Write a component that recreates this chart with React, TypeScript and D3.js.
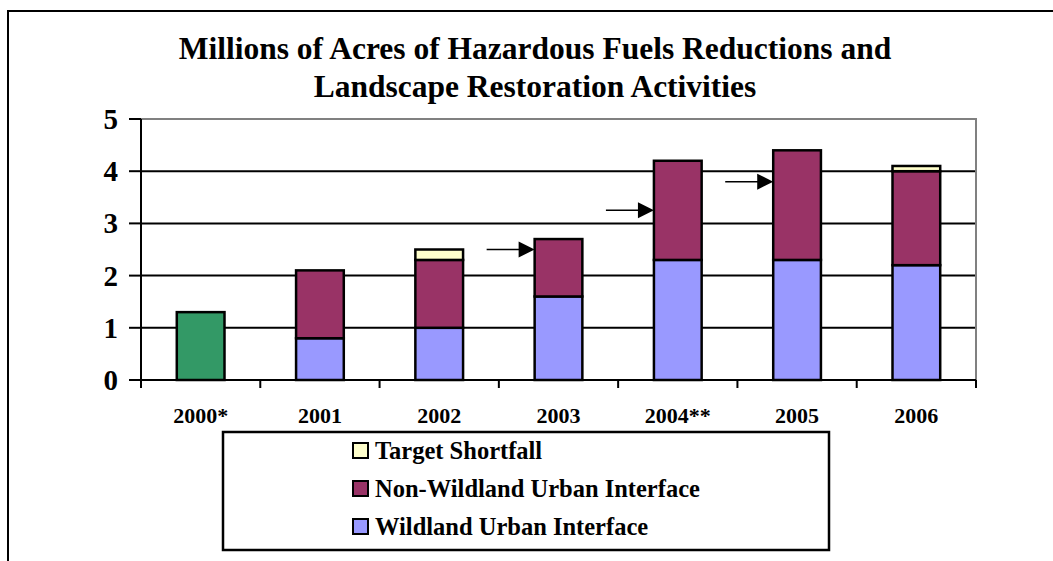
import React from "react";
import * as d3 from "d3";

const categories = ["2000*", "2001", "2002", "2003", "2004**", "2005", "2006"];
const acres2000 = [1.3, 0, 0, 0, 0, 0, 0];
const wui = [0, 0.8, 1.0, 1.6, 2.3, 2.3, 2.2];
const nonWui = [0, 1.3, 1.3, 1.1, 1.9, 2.1, 1.8];
const shortfall = [0, 0, 0.2, 0, 0, 0, 0.1];
const yTicks = [0, 1, 2, 3, 4, 5];
const titleLines = [
  "Millions of Acres of Hazardous Fuels Reductions and",
  "Landscape Restoration Activities",
];
const arrowCats = ["2003", "2004**", "2005"];
const arrowValues = [2.5, 3.25, 3.8];
const legendLabels = ["Target Shortfall", "Non-Wildland Urban Interface", "Wildland Urban Interface"];
const legendKeys = ["shortfall", "nonWui", "wui"];

const keys = ["acres2000", "wui", "nonWui", "shortfall"];
const colors: Record<string, string> = {
  acres2000: "#339966",
  wui: "#9999FF",
  nonWui: "#993366",
  shortfall: "#FFFFCC",
};

const FONT = '"Liberation Serif", "Times New Roman", serif';

export default function App() {
  const W = 1053, H = 561;
  const left = 141, right = 976, top = 119, bottom = 380;
  const x = d3.scaleBand<string>().domain(categories).range([left, right]).paddingInner(0.6).paddingOuter(0.3);
  const y = d3.scaleLinear().domain([0, 5]).range([bottom, top]);
  const step = x.step();
  const bw = x.bandwidth();

  const rows = categories.map((c, i) => ({
    cat: c,
    acres2000: acres2000[i],
    wui: wui[i],
    nonWui: nonWui[i],
    shortfall: shortfall[i],
  }));
  const stacked = d3.stack<any>().keys(keys)(rows);

  const boundaries = categories.map((c) => (x(c) as number) + bw / 2 - step / 2);
  boundaries.push((x(categories[categories.length - 1]) as number) + bw / 2 + step / 2);

  return (
    <svg width={W} height={H} style={{ position: "absolute", left: 0, top: 0, background: "#fff" }} fontFamily={FONT}>
      {/* outer frame */}
      <path d={`M8,${H + 5} L8,11 L${W + 5},11`} fill="none" stroke="#000" strokeWidth={2} />

      {/* title */}
      {titleLines.map((t, i) => (
        <text key={i} x={535} y={59 + i * 38} textAnchor="middle" fontSize={31.5} fontWeight="bold" fill="#000">
          {t}
        </text>
      ))}

      {/* gridlines */}
      {yTicks.filter((v) => v > 0 && v < 5).map((v) => (
        <line key={v} x1={left} x2={right} y1={y(v)} y2={y(v)} stroke="#000" strokeWidth={2} />
      ))}
      {/* plot border top/right gray */}
      <path d={`M${left},${y(5)} L${right},${y(5)} L${right},${bottom}`} fill="none" stroke="#808080" strokeWidth={2} />

      {/* bars */}
      {stacked.map((s) =>
        s.map((d, i) =>
          d[1] - d[0] > 0 ? (
            <rect
              key={s.key + i}
              x={x(categories[i])}
              y={y(d[1])}
              width={bw}
              height={y(d[0]) - y(d[1])}
              fill={colors[s.key]}
              stroke="#000"
              strokeWidth={2.5}
            />
          ) : null
        )
      )}

      {/* axes */}
      <line x1={left} x2={left} y1={y(5)} y2={bottom + 7} stroke="#000" strokeWidth={2} />
      <line x1={left} x2={right} y1={bottom} y2={bottom} stroke="#000" strokeWidth={2} />
      {yTicks.map((v) => (
        <g key={v}>
          <line x1={left - 12} x2={left} y1={y(v)} y2={y(v)} stroke="#000" strokeWidth={2} />
          <text x={118} y={y(v) + 10} textAnchor="end" fontSize={29} fontWeight="bold" fill="#000">
            {v}
          </text>
        </g>
      ))}
      {boundaries.map((b, i) => (
        <line key={i} x1={b} x2={b} y1={bottom} y2={bottom + 8} stroke="#000" strokeWidth={2} />
      ))}
      {categories.map((c) => (
        <text key={c} x={(x(c) as number) + bw / 2} y={423} textAnchor="middle" fontSize={22} fontWeight="bold" fill="#000">
          {c}
        </text>
      ))}

      {/* arrows */}
      {arrowCats.map((c, i) => {
        const tip = x(c) as number;
        const ay = y(arrowValues[i]);
        return (
          <g key={c}>
            <line x1={tip - 48} x2={tip - 14} y1={ay} y2={ay} stroke="#000" strokeWidth={1.5} />
            <path d={`M${tip},${ay} L${tip - 16},${ay - 8} L${tip - 16},${ay + 8} Z`} fill="#000" />
          </g>
        );
      })}

      {/* legend */}
      <rect x={223} y={432} width={606} height={118} fill="#fff" stroke="#000" strokeWidth={2.5} />
      {legendKeys.map((k, i) => (
        <g key={k}>
          <rect x={353} y={443 + i * 38} width={15} height={15} fill={colors[k]} stroke="#000" strokeWidth={2} />
          <text x={375} y={459 + i * 38} fontSize={24.5} fontWeight="bold" fill="#000">
            {legendLabels[i]}
          </text>
        </g>
      ))}
    </svg>
  );
}
